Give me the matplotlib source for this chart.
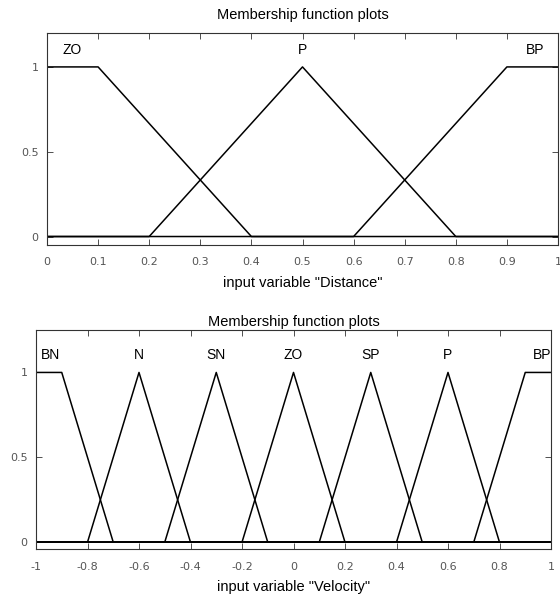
import numpy as np
import matplotlib
matplotlib.use("Agg")
import matplotlib.pyplot as plt

# membership function parameters (trapezoid a, b, c, d; triangles have b == c)
dist_names = ["ZO", "P", "BP"]
dist_params = [[0.0, 0.0, 0.1, 0.4],
               [0.2, 0.5, 0.5, 0.8],
               [0.6, 0.9, 1.0, 1.0]]
dist_label_x = [0.05, 0.5, 0.955]

vel_names = ["BN", "N", "SN", "ZO", "SP", "P", "BP"]
vel_params = [[-1.0, -1.0, -0.9, -0.7],
              [-0.8, -0.6, -0.6, -0.4],
              [-0.5, -0.3, -0.3, -0.1],
              [-0.2, 0.0, 0.0, 0.2],
              [0.1, 0.3, 0.3, 0.5],
              [0.4, 0.6, 0.6, 0.8],
              [0.7, 0.9, 1.0, 1.0]]
vel_label_x = [-0.945, -0.6, -0.3, 0.0, 0.3, 0.6, 0.965]

dist_ticks = [0, 0.1, 0.2, 0.3, 0.4, 0.5, 0.6, 0.7, 0.8, 0.9, 1]
vel_ticks = [-1, -0.8, -0.6, -0.4, -0.2, 0, 0.2, 0.4, 0.6, 0.8, 1]
y_ticks = [0, 0.5, 1]


def trapmf(x, a, b, c, d):
    left = np.ones_like(x) if b == a else np.clip((x - a) / (b - a), 0, 1)
    right = np.ones_like(x) if d == c else np.clip((d - x) / (d - c), 0, 1)
    return np.minimum(left, right)


def mf_plot(ax, lo, hi, names, params, label_x, ticks, xlabel, ylim, title_pad):
    x = np.linspace(lo, hi, 1001)
    for p in params:
        ax.plot(x, trapmf(x, *p), color="black", lw=1.1)
    for name, lx in zip(names, label_x):
        ax.text(lx, 1.1, name, ha="center", va="center", fontsize=10,
                family="Liberation Sans")
    ax.set_xlim(lo, hi)
    ax.set_ylim(*ylim)
    ax.set_xticks(ticks)
    ax.set_xticklabels(["%g" % t for t in ticks])
    ax.set_yticks(y_ticks)
    ax.set_yticklabels(["%g" % t for t in y_ticks])
    ax.tick_params(direction="in", top=True, right=True, length=4, width=0.6,
                   labelsize=8, labelcolor="#555555", color="#333333")
    ax.tick_params(axis="x", pad=9)
    ax.tick_params(axis="y", pad=6)
    for s in ax.spines.values():
        s.set_linewidth(0.8)
        s.set_color("#333333")
    ax.set_title("Membership function plots", fontsize=10.5,
                 family="Liberation Sans", pad=title_pad)
    ax.set_xlabel(xlabel, fontsize=10.5, family="Liberation Sans", labelpad=6)


W, H = 560, 599
fig = plt.figure(figsize=(W / 100, H / 100), dpi=100)
ax1 = fig.add_axes([47 / W, 1 - 245 / H, (558 - 47) / W, (245 - 33) / H])
ax2 = fig.add_axes([36 / W, 1 - 549 / H, (551 - 36) / W, (549 - 330) / H])

mf_plot(ax1, 0, 1, dist_names, dist_params, dist_label_x, dist_ticks,
        'input variable "Distance"', (-0.05, 1.2), 10)
mf_plot(ax2, -1, 1, vel_names, vel_params, vel_label_x, vel_ticks,
        'input variable "Velocity"', (-0.04, 1.25), 3)

fig.savefig("out.png", dpi=100)
